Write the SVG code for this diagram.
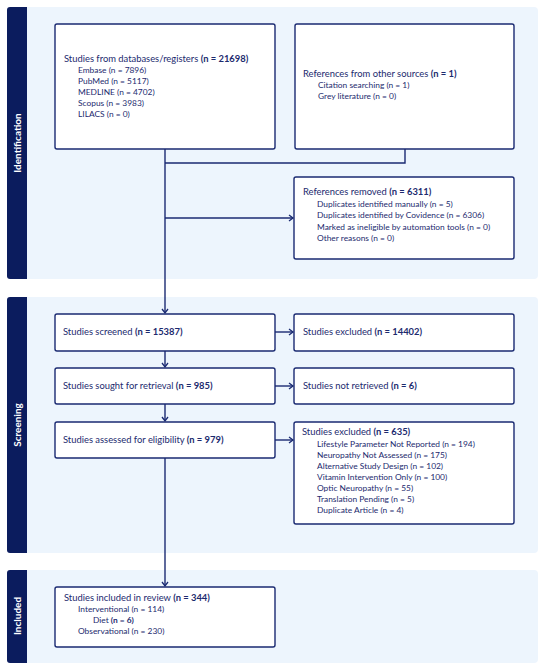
<svg xmlns="http://www.w3.org/2000/svg" width="550" height="672" viewBox="0 0 550 672">
<defs>
<style>
.panel{fill:#edf5fd;}
.side{fill:#0b1c5e;}
.box{fill:#ffffff;stroke:#1a2a72;stroke-width:1.4;}
.t{font-family:Lato,"Open Sans",sans-serif;font-size:9.4px;fill:#1c2a6e;}
.s{font-family:Lato,"Open Sans",sans-serif;font-size:8.4px;fill:#1c2a6e;}
.b{font-weight:bold;}
.lab{font-family:Lato,"Open Sans",sans-serif;font-size:10px;font-weight:bold;fill:#ffffff;text-anchor:middle;}
.ln{fill:none;stroke:#1a2a72;stroke-width:1.4;}
</style>
<marker id="arr" markerWidth="8" markerHeight="8" refX="5" refY="4" orient="auto" markerUnits="userSpaceOnUse">
<path d="M1,1 L5,4 L1,7" fill="none" stroke="#1a2a72" stroke-width="1.3"/>
</marker>
</defs>
<rect width="550" height="672" fill="#ffffff"/>

<g id="phase-identification">
<rect class="panel" x="7" y="7" width="531" height="272" rx="4"/>
<rect class="side" x="7" y="7" width="20" height="272" rx="3"/>
<rect class="side" x="18" y="7" width="9" height="272"/>
<text class="lab" transform="translate(20.5,143) rotate(-90)">Identification</text>
</g>
<g id="phase-screening">
<rect class="panel" x="7" y="297" width="531" height="256" rx="4"/>
<rect class="side" x="7" y="297" width="20" height="256" rx="3"/>
<rect class="side" x="18" y="297" width="9" height="256"/>
<text class="lab" transform="translate(20.5,425) rotate(-90)">Screening</text>
</g>
<g id="phase-included">
<rect class="panel" x="7" y="570" width="531" height="93" rx="4"/>
<rect class="side" x="7" y="570" width="20" height="93" rx="3"/>
<rect class="side" x="18" y="570" width="9" height="93"/>
<text class="lab" transform="translate(20.5,616) rotate(-90)">Included</text>
</g>

<g id="connectors">
<path class="ln" d="M165,149 V313" marker-end="url(#arr)"/>
<path class="ln" d="M405,149 V163 H165"/>
<path class="ln" d="M165,218 H293" marker-end="url(#arr)"/>
<path class="ln" d="M275,332 H293" marker-end="url(#arr)"/>
<path class="ln" d="M165,351 V367" marker-end="url(#arr)"/>
<path class="ln" d="M275,386 H293" marker-end="url(#arr)"/>
<path class="ln" d="M165,404 V421" marker-end="url(#arr)"/>
<path class="ln" d="M275,440 H293" marker-end="url(#arr)"/>
<path class="ln" d="M165,458 V586" marker-end="url(#arr)"/>
</g>

<g id="databases">
<rect class="box" x="55" y="24" width="220" height="125" rx="2"/>
<text class="t" x="64" y="62">Studies from databases/registers <tspan class="b">(n = 21698)</tspan></text>
<text class="s" x="78" y="73">Embase (n = 7896)</text>
<text class="s" x="78" y="84">PubMed (n = 5117)</text>
<text class="s" x="78" y="95">MEDLINE (n = 4702)</text>
<text class="s" x="78" y="106">Scopus (n = 3983)</text>
<text class="s" x="78" y="117">LILACS (n = 0)</text>
</g>
<g id="other-sources">
<rect class="box" x="295" y="24" width="219" height="125" rx="2"/>
<text class="t" x="303" y="77">References from other sources <tspan class="b">(n = 1)</tspan></text>
<text class="s" x="318" y="88">Citation searching (n = 1)</text>
<text class="s" x="318" y="99">Grey literature (n = 0)</text>
</g>
<g id="removed">
<rect class="box" x="294" y="177" width="220" height="82" rx="2"/>
<text class="t" x="303" y="195">References removed <tspan class="b">(n = 6311)</tspan></text>
<text class="s" x="317" y="207">Duplicates identified manually (n = 5)</text>
<text class="s" x="317" y="218">Duplicates identified by Covidence (n = 6306)</text>
<text class="s" x="317" y="230">Marked as ineligible by automation tools (n = 0)</text>
<text class="s" x="317" y="241">Other reasons (n = 0)</text>
</g>
<g id="screened">
<rect class="box" x="55" y="314" width="220" height="37" rx="2"/>
<text class="t" x="63" y="335">Studies screened <tspan class="b">(n = 15387)</tspan></text>
</g>
<g id="excluded-screen">
<rect class="box" x="294" y="314" width="220" height="37" rx="2"/>
<text class="t" x="303" y="335">Studies excluded <tspan class="b">(n = 14402)</tspan></text>
</g>
<g id="sought">
<rect class="box" x="55" y="368" width="220" height="36" rx="2"/>
<text class="t" x="63" y="389">Studies sought for retrieval <tspan class="b">(n = 985)</tspan></text>
</g>
<g id="not-retrieved">
<rect class="box" x="294" y="368" width="220" height="36" rx="2"/>
<text class="t" x="303" y="389">Studies not retrieved <tspan class="b">(n = 6)</tspan></text>
</g>
<g id="assessed">
<rect class="box" x="55" y="422" width="220" height="36" rx="2"/>
<text class="t" x="63" y="443">Studies assessed for eligibility <tspan class="b">(n = 979)</tspan></text>
</g>
<g id="excluded-full">
<rect class="box" x="294" y="422" width="220" height="102" rx="2"/>
<text class="t" x="302" y="435">Studies excluded <tspan class="b">(n = 635)</tspan></text>
<text class="s" x="317" y="447">Lifestyle Parameter Not Reported (n = 194)</text>
<text class="s" x="317" y="458">Neuropathy Not Assessed (n = 175)</text>
<text class="s" x="317" y="469">Alternative Study Design (n = 102)</text>
<text class="s" x="317" y="480">Vitamin Intervention Only (n = 100)</text>
<text class="s" x="317" y="491">Optic Neuropathy (n = 55)</text>
<text class="s" x="317" y="502">Translation Pending (n = 5)</text>
<text class="s" x="317" y="513">Duplicate Article (n = 4)</text>
</g>
<g id="included">
<rect class="box" x="55" y="587" width="220" height="60" rx="2"/>
<text class="t" x="64" y="601">Studies included in review <tspan class="b">(n = 344)</tspan></text>
<text class="s" x="78" y="612">Interventional (n = 114)</text>
<text class="s" x="93" y="623">Diet <tspan class="b">(n = 6)</tspan></text>
<text class="s" x="78" y="634">Observational (n = 230)</text>
</g>
</svg>
